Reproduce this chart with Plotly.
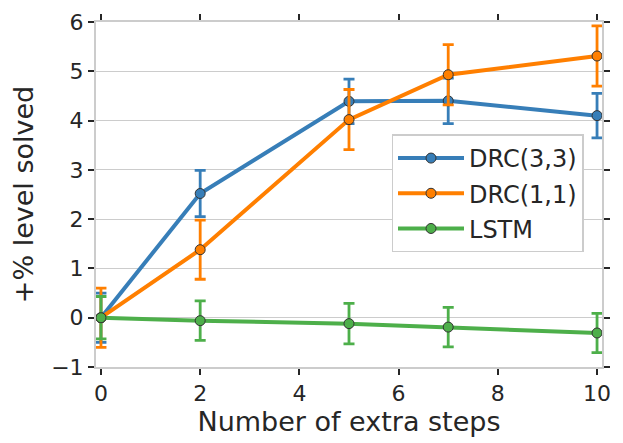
import plotly.graph_objects as go

# extra steps on the x axis
steps = [0, 2, 5, 7, 10]

# % level solved (mean) and error bar half-widths
drc33 = [0.0, 2.52, 4.39, 4.40, 4.10]
drc33_err = [0.50, 0.47, 0.45, 0.46, 0.45]

drc11 = [0.0, 1.38, 4.02, 4.93, 5.31]
drc11_err = [0.60, 0.60, 0.61, 0.61, 0.61]

lstm = [0.0, -0.06, -0.12, -0.19, -0.31]
lstm_err = [0.43, 0.40, 0.41, 0.40, 0.40]

series = [
    ("DRC(3,3)", drc33, drc33_err, "#377eb8"),
    ("DRC(1,1)", drc11, drc11_err, "#ff7f00"),
    ("LSTM", lstm, lstm_err, "#4daf4a"),
]

ink = "#262626"
frame = "#cccccc"

fig = go.Figure()
for name, vals, errs, col in series:
    fig.add_trace(go.Scatter(
        x=steps, y=vals, name=name, legendgroup=name,
        mode="lines+markers",
        line=dict(color=col, width=4),
        marker=dict(size=10, color=col, line=dict(color="#333333", width=1)),
        error_y=dict(type="data", array=errs, visible=True,
                     color=col, thickness=2.8, width=5.5),
    ))

# the page body has an 8px default margin, so the figure is a bit smaller
fig.update_layout(
    width=615, height=435,
    margin=dict(l=88, r=21, t=14, b=76),
    paper_bgcolor="white", plot_bgcolor="white",
    font=dict(family="DejaVu Sans", size=22, color=ink),
    legend=dict(
        x=0.584, y=0.674, xanchor="left", yanchor="top",
        bgcolor="white", bordercolor=frame, borderwidth=1.5,
        font=dict(size=24, color=ink), tracegroupgap=1,
        itemwidth=66,
    ),
    showlegend=True,
)

fig.update_xaxes(
    title=dict(text="Number of extra steps", font=dict(size=27), standoff=1),
    range=[-0.1, 10.1], tickmode="array", tickvals=[0, 2, 4, 6, 8, 10],
    showgrid=False, zeroline=False, automargin=False,
    showline=True, linecolor=frame, linewidth=2, mirror="ticks",
    ticks="outside", ticklen=6, tickwidth=1.5, tickcolor=ink,
)
fig.update_yaxes(
    title=dict(text="+% level solved", font=dict(size=27), standoff=17),
    range=[-1, 6], tickmode="array", tickvals=[-1, 0, 1, 2, 3, 4, 5, 6],
    ticktext=["\u22121", "0", "1", "2", "3", "4", "5", "6"],
    showgrid=True, gridcolor=frame, gridwidth=1.2, zeroline=False,
    automargin=False,
    showline=True, linecolor=frame, linewidth=2, mirror="ticks",
    ticks="outside", ticklen=6, tickwidth=1.5, tickcolor=ink,
)

fig.write_html("out.html")
